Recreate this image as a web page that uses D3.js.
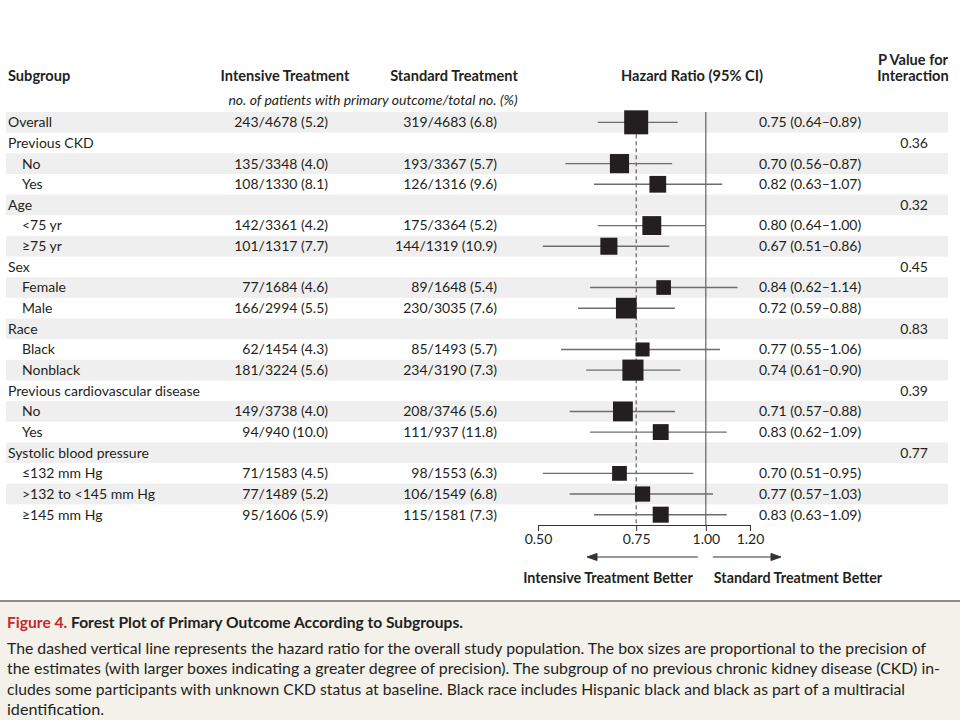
<!DOCTYPE html>
<html>
<head>
<meta charset="utf-8">
<script src="https://cdn.jsdelivr.net/npm/d3@7"></script>
<style>
  body { margin: 0; background: #fff; }
  svg { display: block; }
  text { font-family: Lato, "Open Sans", sans-serif; fill: #231f20; }
</style>
</head>
<body>
<script>
// rows of the table, top to bottom
const subgroups = ["Overall", "Previous CKD", "No", "Yes", "Age", "<75 yr", "≥75 yr", "Sex", "Female", "Male",
  "Race", "Black", "Nonblack", "Previous cardiovascular disease", "No", "Yes",
  "Systolic blood pressure", "≤132 mm Hg", ">132 to <145 mm Hg", "≥145 mm Hg"];
const isSub = [0, 0, 1, 1, 0, 1, 1, 0, 1, 1, 0, 1, 1, 0, 1, 1, 0, 1, 1, 1];
const intensive = ["243/4678 (5.2)", "", "135/3348 (4.0)", "108/1330 (8.1)", "", "142/3361 (4.2)", "101/1317 (7.7)",
  "", "77/1684 (4.6)", "166/2994 (5.5)", "", "62/1454 (4.3)", "181/3224 (5.6)", "", "149/3738 (4.0)", "94/940 (10.0)",
  "", "71/1583 (4.5)", "77/1489 (5.2)", "95/1606 (5.9)"];
const standard = ["319/4683 (6.8)", "", "193/3367 (5.7)", "126/1316 (9.6)", "", "175/3364 (5.2)", "144/1319 (10.9)",
  "", "89/1648 (5.4)", "230/3035 (7.6)", "", "85/1493 (5.7)", "234/3190 (7.3)", "", "208/3746 (5.6)", "111/937 (11.8)",
  "", "98/1553 (6.3)", "106/1549 (6.8)", "115/1581 (7.3)"];
const hr = [0.75, null, 0.70, 0.82, null, 0.80, 0.67, null, 0.84, 0.72, null, 0.77, 0.74, null, 0.71, 0.83, null, 0.70, 0.77, 0.83];
const hrLow = [0.64, null, 0.56, 0.63, null, 0.64, 0.51, null, 0.62, 0.59, null, 0.55, 0.61, null, 0.57, 0.62, null, 0.51, 0.57, 0.63];
const hrHigh = [0.89, null, 0.87, 1.07, null, 1.00, 0.86, null, 1.14, 0.88, null, 1.06, 0.90, null, 0.88, 1.09, null, 0.95, 1.03, 1.09];
const pInteraction = ["", "0.36", "", "", "0.32", "", "", "0.45", "", "", "0.83", "", "", "0.39", "", "", "0.77", "", "", ""];
const hrTicks = [0.5, 0.75, 1.0, 1.2];

const captionLabel = "Figure 4.";
const captionTitle = " Forest Plot of Primary Outcome According to Subgroups.";
const captionLines = [
  "The dashed vertical line represents the hazard ratio for the overall study population. The box sizes are proportional to the precision of",
  "the estimates (with larger boxes indicating a greater degree of precision). The subgroup of no previous chronic kidney disease (CKD) in-",
  "cludes some participants with unknown CKD status at baseline. Black race includes Hispanic black and black as part of a multiracial",
  "identification."
];
const captionWidths = [919, 933, 898, 97];

const width = 960, height = 720;

let svg = d3.select("body").append("svg")
    .attr("width", width)
    .attr("height", height);

let x = d3.scaleLog().domain([0.5, 1.2]).range([538, 750]);
let y = d3.scaleBand().domain(d3.range(subgroups.length)).range([112, 525]);
let bw = y.bandwidth();
let mid = (i) => y(i) + bw / 2;

// events in both groups -> box size
let events = intensive.map((s, i) => s ? +s.split("/")[0] + +standard[i].split("/")[0] : null);
let box = d3.scaleSqrt().domain(d3.extent(events)).range([14, 24]);

// zebra stripes
svg.append("g").selectAll("rect")
    .data(d3.range(subgroups.length).filter((i) => i % 2 === 0))
    .enter().append("rect")
    .attr("x", 6)
    .attr("y", (i) => y(i))
    .attr("width", 942)
    .attr("height", bw)
    .attr("fill", "#efefef");

// headers
let head = svg.append("g").attr("font-weight", "bold").attr("font-size", "14.6px");
head.append("text").attr("x", 8).attr("y", 81).text("Subgroup");
head.append("text").attr("x", 285).attr("y", 81).attr("text-anchor", "middle").text("Intensive Treatment");
head.append("text").attr("x", 454).attr("y", 81).attr("text-anchor", "middle").text("Standard Treatment");
head.append("text").attr("x", 692).attr("y", 81).attr("text-anchor", "middle").text("Hazard Ratio (95% CI)");
head.append("text").attr("x", 913).attr("y", 65).attr("text-anchor", "middle").text("P Value for");
head.append("text").attr("x", 913).attr("y", 81).attr("text-anchor", "middle").text("Interaction");

svg.append("text")
    .attr("x", 373).attr("y", 105)
    .attr("text-anchor", "middle")
    .attr("font-style", "italic")
    .attr("font-size", "14px")
    .text("no. of patients with primary outcome/total no. (%)");

// table columns
let rows = svg.append("g").attr("font-size", "14px")
    .selectAll("g")
    .data(d3.range(subgroups.length))
    .enter().append("g")
    .attr("transform", (i) => `translate(0, ${ mid(i) })`);

rows.append("text").attr("x", (i) => isSub[i] ? 22 : 8).attr("dy", ".35em").text((i) => subgroups[i]);
rows.append("text").attr("x", 328).attr("dy", ".35em").attr("text-anchor", "end").text((i) => intensive[i]);
rows.append("text").attr("x", 497).attr("dy", ".35em").attr("text-anchor", "end").text((i) => standard[i]);
rows.append("text").attr("x", 759).attr("dy", ".35em")
    .text((i) => hr[i] == null ? "" : `${ hr[i].toFixed(2) } (${ hrLow[i].toFixed(2) }–${ hrHigh[i].toFixed(2) })`);
rows.append("text").attr("x", 928).attr("dy", ".35em").attr("text-anchor", "end").text((i) => pInteraction[i]);

// reference lines
svg.append("line")
    .attr("x1", x(1)).attr("x2", x(1))
    .attr("y1", y(0)).attr("y2", 525)
    .attr("stroke", "#444").attr("stroke-width", 1);
svg.append("line")
    .attr("x1", x(hr[0])).attr("x2", x(hr[0]))
    .attr("y1", mid(0) + box(events[0]) / 2).attr("y2", 525)
    .attr("stroke", "#444").attr("stroke-width", 1)
    .attr("stroke-dasharray", "4,3");

// estimates
let est = d3.range(subgroups.length).filter((i) => hr[i] != null);
svg.append("g").selectAll("line")
    .data(est)
    .enter().append("line")
    .attr("x1", (i) => x(hrLow[i])).attr("x2", (i) => x(hrHigh[i]))
    .attr("y1", mid).attr("y2", mid)
    .attr("stroke", "#6d6d6d").attr("stroke-width", 1.4);
svg.append("g").selectAll("rect")
    .data(est)
    .enter().append("rect")
    .attr("x", (i) => x(hr[i]) - box(events[i]) / 2)
    .attr("y", (i) => mid(i) - box(events[i]) / 2)
    .attr("width", (i) => box(events[i]))
    .attr("height", (i) => box(events[i]))
    .attr("fill", "#231f20");

// axis
let axis = svg.append("g")
    .attr("transform", "translate(0, 525)")
    .call(d3.axisBottom(x).tickValues(hrTicks).tickFormat(d3.format(".2f")).tickSize(6).tickSizeOuter(0));
axis.selectAll("line, path").attr("stroke", "#333");
axis.selectAll("text").attr("font-size", "14px").attr("font-family", "Lato, sans-serif").attr("fill", "#231f20");

// direction arrows
let ay = 557;
let arrows = svg.append("g").attr("stroke", "#333").attr("fill", "#333");
arrows.append("line").attr("x1", x(1) - 8).attr("x2", 592).attr("y1", ay).attr("y2", ay);
arrows.append("path").attr("d", `M587,${ ay }l10,-3.5v7z`);
arrows.append("line").attr("x1", x(1) + 7).attr("x2", 775).attr("y1", ay).attr("y2", ay);
arrows.append("path").attr("d", `M781,${ ay }l-10,-3.5v7z`);

svg.append("text").attr("x", 608).attr("y", 583).attr("text-anchor", "middle")
    .attr("font-weight", "bold").attr("font-size", "14.3px").text("Intensive Treatment Better");
svg.append("text").attr("x", 798).attr("y", 583).attr("text-anchor", "middle")
    .attr("font-weight", "bold").attr("font-size", "14.3px").text("Standard Treatment Better");

// caption panel
svg.append("rect").attr("x", 0).attr("y", 601).attr("width", width).attr("height", height - 601).attr("fill", "#f4f0ea");
svg.append("line").attr("x1", 0).attr("x2", width).attr("y1", 601).attr("y2", 601)
    .attr("stroke", "#8c8c8c").attr("stroke-width", 2);

let cap = svg.append("g")
    .style("font-family", "'Liberation Sans Narrow', 'DejaVu Sans Condensed', 'Open Sans', sans-serif")
    .attr("font-size", "16px");

let title = cap.append("text").attr("x", 7).attr("y", 628)
    .attr("font-weight", "bold")
    .attr("textLength", 456).attr("lengthAdjust", "spacingAndGlyphs");
title.append("tspan").style("fill", "#c6282f").text(captionLabel);
title.append("tspan").text(captionTitle);

cap.selectAll("text.line")
    .data(captionLines)
    .enter().append("text")
    .attr("class", "line")
    .attr("x", 7)
    .attr("y", (d, i) => 654 + i * 20.3)
    .attr("textLength", (d, i) => captionWidths[i])
    .attr("lengthAdjust", "spacingAndGlyphs")
    .text((d) => d);
</script>
</body>
</html>
